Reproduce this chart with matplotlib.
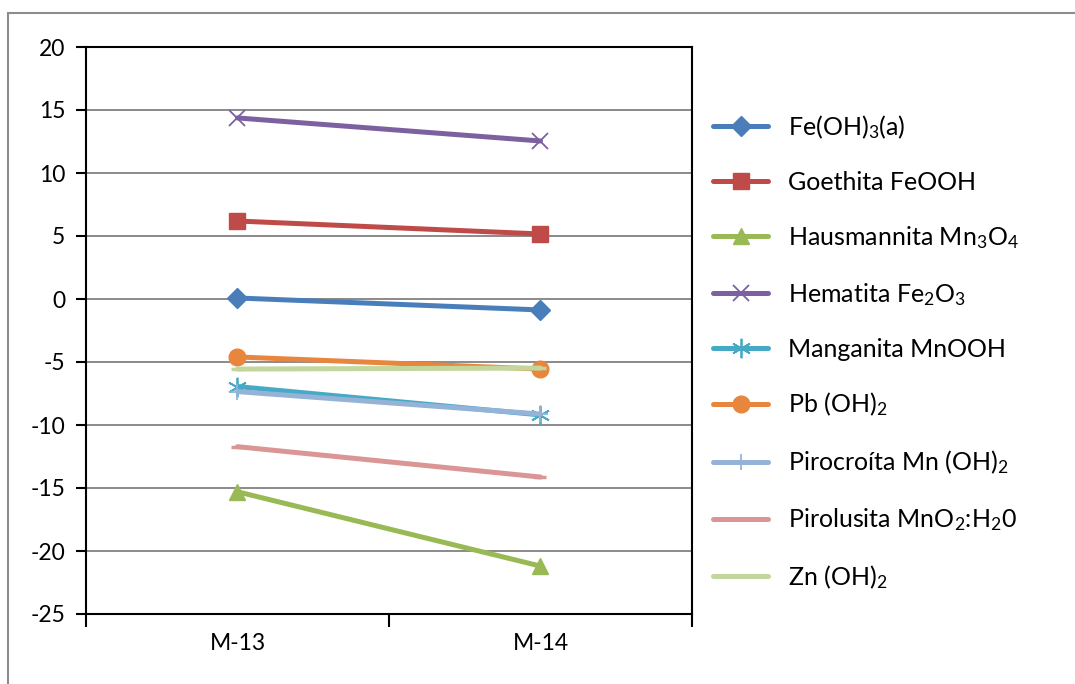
import matplotlib
matplotlib.use("Agg")
import matplotlib.pyplot as plt
from matplotlib.patches import Rectangle

plt.rcParams['font.family'] = ['Lato', 'DejaVu Sans']
plt.rcParams['mathtext.fontset'] = 'custom'
plt.rcParams['mathtext.rm'] = 'Lato'

categories = ['M-13', 'M-14']
series_names = [
    r'Fe(OH)$\mathregular{_3}$(a)',
    'Goethita FeOOH',
    r'Hausmannita Mn$\mathregular{_3}$O$\mathregular{_4}$',
    r'Hematita Fe$\mathregular{_2}$O$\mathregular{_3}$',
    'Manganita MnOOH',
    r'Pb (OH)$\mathregular{_2}$',
    r'Pirocroíta Mn (OH)$\mathregular{_2}$',
    r'Pirolusita MnO$\mathregular{_2}$:H$\mathregular{_2}$0',
    r'Zn (OH)$\mathregular{_2}$',
]
fe_oh3 = [0.08, -0.87]
goethita = [6.19, 5.16]
hausmannita = [-15.3, -21.2]
hematita = [14.37, 12.54]
manganita = [-6.95, -9.2]
pb_oh2 = [-4.6, -5.56]
pirocroita = [-7.35, -9.13]
pirolusita = [-11.72, -14.13]
zn_oh2 = [-5.56, -5.48]
yticks = [20, 15, 10, 5, 0, -5, -10, -15, -20, -25]

series_values = [fe_oh3, goethita, hausmannita, hematita, manganita,
                 pb_oh2, pirocroita, pirolusita, zn_oh2]
colors = ['#4A7EBB', '#BE4B48', '#98B954', '#7D60A0', '#46AAC5',
          '#E8863E', '#95B3D7', '#D99694', '#C3D69B']
markers = ['D', 's', '^', 'x', (6, 2, 0), 'o', '+', '_', '_']
msizes = [10, 12, 12, 11, 14, 12, 12, 8, 8]
mews = [1, 1, 1, 1.3, 1.3, 1, 1.3, 2.5, 2.5]

W, H = 1075, 684
fig = plt.figure(figsize=(W / 100, H / 100), dpi=100)

# outer border
fig.patches.append(Rectangle((8 / W, -0.1), 1.2, 1 - 13 / H + 0.1,
                             transform=fig.transFigure, fill=False,
                             edgecolor='#8C8C8C', linewidth=1.5))

left, right, top, bottom = 86, 692, 47, 614
ax = fig.add_axes([left / W, (H - bottom) / H, (right - left) / W, (bottom - top) / H])

x = list(range(len(categories)))
handles = []
for name, vals, c, m, ms, mew in zip(series_names, series_values, colors, markers, msizes, mews):
    h, = ax.plot(x, vals, color=c, linewidth=3.6, marker=m, markersize=ms,
                 markeredgewidth=mew, markeredgecolor=c, markerfacecolor=c,
                 label=name, solid_capstyle='round')
    handles.append(h)

ax.set_xlim(-0.5, 1.5)
ax.set_ylim(-25, 20)
ax.set_yticks(yticks)
ax.set_yticklabels([str(v) for v in yticks])
ax.yaxis.grid(True, color='#8A8A8A', linewidth=1.4)
ax.set_axisbelow(True)
ax.set_xticks(x)
ax.set_xticklabels(categories)
ax.set_xticks([-0.5, 0.5, 1.5], minor=True)
ax.tick_params(axis='x', which='major', length=0, pad=14, labelsize=16.5)
ax.tick_params(axis='x', which='minor', length=9, width=1.5, direction='out', color='black')
ax.tick_params(axis='y', length=7, width=1.5, direction='out', pad=8, labelsize=16.5, color='black')
for sp in ax.spines.values():
    sp.set_color('black')
    sp.set_linewidth(1.5)

leg = fig.legend(handles=handles, loc='center left',
                 bbox_to_anchor=(713 / W, (H - 352) / H),
                 frameon=False, fontsize=18, handlelength=2.2,
                 handletextpad=0.8, labelspacing=1.2, borderpad=0,
                 borderaxespad=0)

fig.savefig('out.png', dpi=100)
